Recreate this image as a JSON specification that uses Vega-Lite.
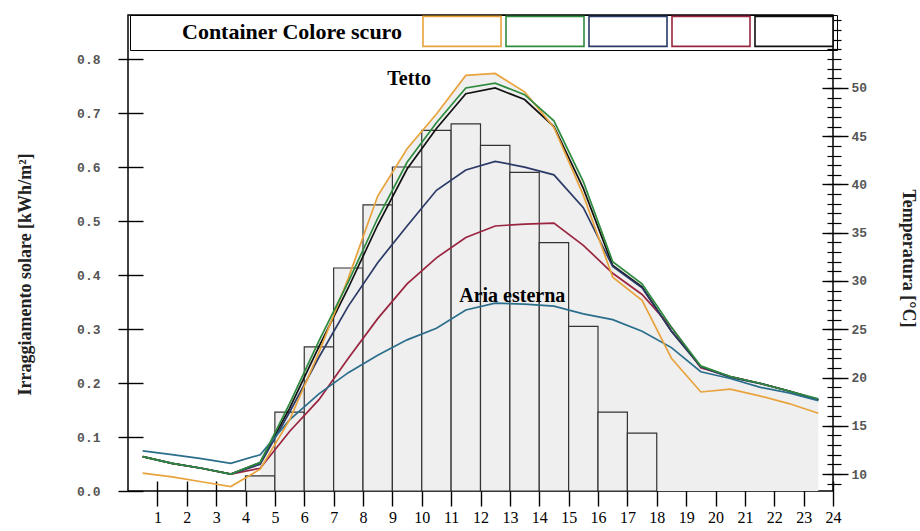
{
  "$schema": "https://vega.github.io/schema/vega-lite/v6.json",
  "width": 705,
  "height": 476,
  "autosize": "none",
  "padding": {"left": 128, "top": 15, "right": 87, "bottom": 40},
  "background": "white",
  "config": {
    "view": {"stroke": "black", "strokeWidth": 1.5},
    "axis": {"grid": false, "domain": false, "tickColor": "black", "tickWidth": 1.4, "labelOverlap": false},
    "axisX": {
      "values": [1,2,3,4,5,6,7,8,9,10,11,12,13,14,15,16,17,18,19,20,21,22,23,24],
      "offset": -10, "tickSize": 25, "labelPadding": 3, "labelOverlap": false, "labelBound": false, "labelFlush": false,
      "labelFont": "Liberation Serif", "labelFontSize": 16, "labelColor": "black", "title": null
    }
  },
  "datasets": {
    "temp": [
      {"series":"Serie 3","h":0.5,"t":11.8},{"series":"Serie 3","h":1.5,"t":11.1},{"series":"Serie 3","h":2.5,"t":10.6},{"series":"Serie 3","h":3.5,"t":10.0},{"series":"Serie 3","h":4.5,"t":11.2},{"series":"Serie 3","h":5.5,"t":16.8},{"series":"Serie 3","h":6.5,"t":23.2},{"series":"Serie 3","h":7.5,"t":29.3},{"series":"Serie 3","h":8.5,"t":35.8},{"series":"Serie 3","h":9.5,"t":41.6},{"series":"Serie 3","h":10.5,"t":45.8},{"series":"Serie 3","h":11.5,"t":49.4},{"series":"Serie 3","h":12.5,"t":50.0},{"series":"Serie 3","h":13.5,"t":48.8},{"series":"Serie 3","h":14.5,"t":46.0},{"series":"Serie 3","h":15.5,"t":39.6},{"series":"Serie 3","h":16.5,"t":31.6},{"series":"Serie 3","h":17.5,"t":29.4},{"series":"Serie 3","h":18.5,"t":24.8},{"series":"Serie 3","h":19.5,"t":21.1},{"series":"Serie 3","h":20.5,"t":20.1},{"series":"Serie 3","h":21.5,"t":19.4},{"series":"Serie 3","h":22.5,"t":18.6},{"series":"Serie 3","h":23.5,"t":17.7},
      {"series":"Serie 5","h":0.5,"t":11.8},{"series":"Serie 5","h":1.5,"t":11.1},{"series":"Serie 5","h":2.5,"t":10.6},{"series":"Serie 5","h":3.5,"t":10.0},{"series":"Serie 5","h":4.5,"t":10.6},{"series":"Serie 5","h":5.5,"t":14.4},{"series":"Serie 5","h":6.5,"t":17.7},{"series":"Serie 5","h":7.5,"t":22.0},{"series":"Serie 5","h":8.5,"t":26.1},{"series":"Serie 5","h":9.5,"t":29.7},{"series":"Serie 5","h":10.5,"t":32.4},{"series":"Serie 5","h":11.5,"t":34.5},{"series":"Serie 5","h":12.5,"t":35.7},{"series":"Serie 5","h":13.5,"t":35.9},{"series":"Serie 5","h":14.5,"t":36.0},{"series":"Serie 5","h":15.5,"t":33.7},{"series":"Serie 5","h":16.5,"t":30.8},{"series":"Serie 5","h":17.5,"t":28.6},{"series":"Serie 5","h":18.5,"t":25.2},{"series":"Serie 5","h":19.5,"t":21.0},{"series":"Serie 5","h":20.5,"t":20.1},{"series":"Serie 5","h":21.5,"t":19.4},{"series":"Serie 5","h":22.5,"t":18.6},{"series":"Serie 5","h":23.5,"t":17.7},
      {"series":"Serie 4","h":0.5,"t":11.8},{"series":"Serie 4","h":1.5,"t":11.1},{"series":"Serie 4","h":2.5,"t":10.6},{"series":"Serie 4","h":3.5,"t":10.0},{"series":"Serie 4","h":4.5,"t":11.0},{"series":"Serie 4","h":5.5,"t":16.4},{"series":"Serie 4","h":6.5,"t":22.1},{"series":"Serie 4","h":7.5,"t":27.4},{"series":"Serie 4","h":8.5,"t":31.9},{"series":"Serie 4","h":9.5,"t":35.7},{"series":"Serie 4","h":10.5,"t":39.4},{"series":"Serie 4","h":11.5,"t":41.5},{"series":"Serie 4","h":12.5,"t":42.4},{"series":"Serie 4","h":13.5,"t":41.8},{"series":"Serie 4","h":14.5,"t":41.0},{"series":"Serie 4","h":15.5,"t":37.6},{"series":"Serie 4","h":16.5,"t":31.5},{"series":"Serie 4","h":17.5,"t":29.3},{"series":"Serie 4","h":18.5,"t":24.8},{"series":"Serie 4","h":19.5,"t":21.1},{"series":"Serie 4","h":20.5,"t":20.0},{"series":"Serie 4","h":21.5,"t":19.4},{"series":"Serie 4","h":22.5,"t":18.6},{"series":"Serie 4","h":23.5,"t":17.7},
      {"series":"Aria esterna","h":0.5,"t":12.4},{"series":"Aria esterna","h":1.5,"t":12.0},{"series":"Aria esterna","h":2.5,"t":11.6},{"series":"Aria esterna","h":3.5,"t":11.1},{"series":"Aria esterna","h":4.5,"t":12.0},{"series":"Aria esterna","h":5.5,"t":15.6},{"series":"Aria esterna","h":6.5,"t":18.3},{"series":"Aria esterna","h":7.5,"t":20.5},{"series":"Aria esterna","h":8.5,"t":22.3},{"series":"Aria esterna","h":9.5,"t":23.9},{"series":"Aria esterna","h":10.5,"t":25.1},{"series":"Aria esterna","h":11.5,"t":27.0},{"series":"Aria esterna","h":12.5,"t":27.7},{"series":"Aria esterna","h":13.5,"t":27.6},{"series":"Aria esterna","h":14.5,"t":27.4},{"series":"Aria esterna","h":15.5,"t":26.6},{"series":"Aria esterna","h":16.5,"t":26.0},{"series":"Aria esterna","h":17.5,"t":24.8},{"series":"Aria esterna","h":18.5,"t":23.1},{"series":"Aria esterna","h":19.5,"t":20.6},{"series":"Aria esterna","h":20.5,"t":19.9},{"series":"Aria esterna","h":21.5,"t":19.0},{"series":"Aria esterna","h":22.5,"t":18.4},{"series":"Aria esterna","h":23.5,"t":17.6},
      {"series":"Tetto","h":0.5,"t":10.1},{"series":"Tetto","h":1.5,"t":9.7},{"series":"Tetto","h":2.5,"t":9.2},{"series":"Tetto","h":3.5,"t":8.7},{"series":"Tetto","h":4.5,"t":10.5},{"series":"Tetto","h":5.5,"t":15.6},{"series":"Tetto","h":6.5,"t":22.6},{"series":"Tetto","h":7.5,"t":30.3},{"series":"Tetto","h":8.5,"t":38.8},{"series":"Tetto","h":9.5,"t":43.7},{"series":"Tetto","h":10.5,"t":47.3},{"series":"Tetto","h":11.5,"t":51.3},{"series":"Tetto","h":12.5,"t":51.5},{"series":"Tetto","h":13.5,"t":49.6},{"series":"Tetto","h":14.5,"t":45.9},{"series":"Tetto","h":15.5,"t":38.9},{"series":"Tetto","h":16.5,"t":30.4},{"series":"Tetto","h":17.5,"t":28.0},{"series":"Tetto","h":18.5,"t":22.0},{"series":"Tetto","h":19.5,"t":18.5},{"series":"Tetto","h":20.5,"t":18.8},{"series":"Tetto","h":21.5,"t":18.1},{"series":"Tetto","h":22.5,"t":17.3},{"series":"Tetto","h":23.5,"t":16.3},
      {"series":"Serie 2","h":0.5,"t":11.8},{"series":"Serie 2","h":1.5,"t":11.1},{"series":"Serie 2","h":2.5,"t":10.6},{"series":"Serie 2","h":3.5,"t":10.0},{"series":"Serie 2","h":4.5,"t":11.2},{"series":"Serie 2","h":5.5,"t":17.3},{"series":"Serie 2","h":6.5,"t":23.8},{"series":"Serie 2","h":7.5,"t":29.9},{"series":"Serie 2","h":8.5,"t":36.5},{"series":"Serie 2","h":9.5,"t":42.3},{"series":"Serie 2","h":10.5,"t":46.4},{"series":"Serie 2","h":11.5,"t":50.0},{"series":"Serie 2","h":12.5,"t":50.5},{"series":"Serie 2","h":13.5,"t":49.3},{"series":"Serie 2","h":14.5,"t":46.6},{"series":"Serie 2","h":15.5,"t":40.3},{"series":"Serie 2","h":16.5,"t":32.0},{"series":"Serie 2","h":17.5,"t":29.7},{"series":"Serie 2","h":18.5,"t":25.2},{"series":"Serie 2","h":19.5,"t":21.2},{"series":"Serie 2","h":20.5,"t":20.1},{"series":"Serie 2","h":21.5,"t":19.4},{"series":"Serie 2","h":22.5,"t":18.6},{"series":"Serie 2","h":23.5,"t":17.8}
    ],
    "bars": [
      {"start":4,"end":5,"irr":0.028},{"start":5,"end":6,"irr":0.146},{"start":6,"end":7,"irr":0.267},{"start":7,"end":8,"irr":0.413},{"start":8,"end":9,"irr":0.53},{"start":9,"end":10,"irr":0.60},{"start":10,"end":11,"irr":0.668},{"start":11,"end":12,"irr":0.68},{"start":12,"end":13,"irr":0.64},{"start":13,"end":14,"irr":0.59},{"start":14,"end":15,"irr":0.46},{"start":15,"end":16,"irr":0.305},{"start":16,"end":17,"irr":0.146},{"start":17,"end":18,"irr":0.107}
    ],
    "notes": [
      {"label":"Tetto","h":9.57,"t":50.9},
      {"label":"Aria esterna","h":13.08,"t":28.4}
    ]
  },
  "layer": [
    {
      "data": {"name": "temp"},
      "transform": [
        {"filter": "datum.h >= 4.5"},
        {"aggregate": [{"op": "max", "field": "t", "as": "tmax"}], "groupby": ["h"]}
      ],
      "mark": {"type": "area", "fill": "#efefef", "stroke": null, "clip": true},
      "encoding": {
        "x": {
          "field": "h", "type": "quantitative",
          "scale": {"domain": [0, 24], "nice": false, "zero": false},
          "axis": {"values": [1,2,3,4,5,6,7,8,9,10,11,12,13,14,15,16,17,18,19,20,21,22,23,24], "labelOverlap": false}
        },
        "y": {
          "field": "tmax", "type": "quantitative",
          "scale": {"domain": [8.24, 57.56], "nice": false, "zero": false},
          "axis": {
            "orient": "right", "values": [10,15,20,25,30,35,40,45,50],
            "offset": -11, "tickSize": 26, "labelPadding": 3,
            "labelFont": "Liberation Mono", "labelFontWeight": "bold", "labelFontSize": 13, "labelColor": "#555",
            "title": "Temperatura [°C]", "titleFont": "Liberation Serif", "titleFontSize": 18, "titleFontWeight": "bold",
            "titleColor": "#222", "titleAngle": 90, "titleX": 85, "titleY": 243, "titleAlign": "center", "titleBaseline": "middle"
          }
        },
        "y2": {"datum": 8.24}
      }
    },
    {
      "data": {"name": "bars"},
      "mark": {"type": "rect", "fill": "#efefef", "stroke": "#333", "strokeWidth": 1.2},
      "encoding": {
        "x": {
          "field": "start", "type": "quantitative", "scale": {"domain": [0, 24], "nice": false, "zero": false},
          "axis": {"values": [1,2,3,4,5,6,7,8,9,10,11,12,13,14,15,16,17,18,19,20,21,22,23,24], "labelOverlap": false}
        },
        "x2": {"field": "end"},
        "y": {
          "field": "irr", "type": "quantitative",
          "scale": {"domain": [0, 0.8815], "nice": false},
          "axis": {
            "orient": "left", "values": [0,0.1,0.2,0.3,0.4,0.5,0.6,0.7,0.8], "format": ".1f",
            "offset": -15, "tickSize": 25, "labelPadding": 18,
            "labelFont": "Liberation Mono", "labelFontWeight": "bold", "labelFontSize": 13, "labelColor": "#555",
            "title": "Irraggiamento solare [kWh/m²]", "titleFont": "Liberation Serif", "titleFontSize": 18, "titleFontWeight": "bold",
            "titleColor": "#222", "titleAngle": -90, "titleX": -118, "titleY": 259, "titleAlign": "center", "titleBaseline": "middle"
          }
        },
        "y2": {"datum": 0}
      }
    },
    {
      "data": {"name": "temp"},
      "mark": {"type": "line", "strokeWidth": 1.7},
      "encoding": {
        "x": {
          "field": "h", "type": "quantitative", "scale": {"domain": [0, 24], "nice": false, "zero": false},
          "axis": {"values": [1,2,3,4,5,6,7,8,9,10,11,12,13,14,15,16,17,18,19,20,21,22,23,24], "labelOverlap": false}
        },
        "y": {
          "field": "t", "type": "quantitative",
          "scale": {"domain": [8.24, 57.56], "nice": false, "zero": false},
          "axis": {
            "orient": "right",
            "values": [9,10,11,12,13,14,15,16,17,18,19,20,21,22,23,24,25,26,27,28,29,30,31,32,33,34,35,36,37,38,39,40,41,42,43,44,45,46,47,48,49,50,51,52,53,54,55,56,57],
            "offset": -6, "tickSize": 14, "labels": false, "title": null, "tickWidth": 1.2
          }
        },
        "color": {
          "field": "series", "type": "nominal",
          "scale": {
            "domain": ["Tetto", "Serie 2", "Serie 4", "Serie 5", "Serie 3", "Aria esterna"],
            "range": ["#e8a33c", "#2e8b3e", "#2b3a66", "#9a2540", "#111111", "#2a6e8c"]
          },
          "legend": {
            "orient": "none", "legendX": 2, "legendY": 0, "direction": "horizontal", "columns": 5,
            "values": ["Tetto", "Serie 2", "Serie 4", "Serie 5", "Serie 3"],
            "title": "Container Colore scuro", "titleOrient": "left", "titleLimit": 400,
            "titleFont": "Liberation Serif", "titleFontSize": 22, "titleFontWeight": "bold", "titleColor": "black",
            "titlePadding": 71, "titleBaseline": "middle",
            "padding": 0, "strokeColor": "black",
            "symbolType": "M-2.6,-1H2.6V1H-2.6Z", "symbolSize": 900, "symbolStrokeWidth": 1.6,
            "symbolFillColor": "white", "symbolOffset": 24,
            "labelExpr": "''", "labelOffset": 0, "labelFontSize": 1, "columnPadding": -11, "rowPadding": 0,
            "encode": {"title": {"update": {"dx": {"value": 52}}}}
          }
        },
        "order": {"field": "h", "type": "quantitative"}
      }
    },
    {
      "data": {"name": "notes"},
      "mark": {"type": "text", "font": "Liberation Serif", "fontSize": 20, "fontWeight": "bold", "color": "black", "align": "center", "baseline": "middle"},
      "encoding": {
        "x": {
          "field": "h", "type": "quantitative", "scale": {"domain": [0, 24], "nice": false, "zero": false},
          "axis": {"values": [1,2,3,4,5,6,7,8,9,10,11,12,13,14,15,16,17,18,19,20,21,22,23,24], "labelOverlap": false}
        },
        "y": {"field": "t", "type": "quantitative", "scale": {"domain": [8.24, 57.56], "nice": false, "zero": false}, "axis": null},
        "text": {"field": "label"}
      }
    }
  ],
  "resolve": {"scale": {"y": "independent"}}
}
